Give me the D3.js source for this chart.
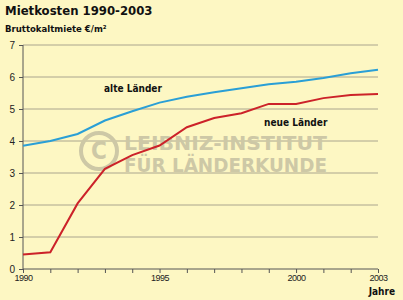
<!doctype html>
<html lang="de">
<head>
  <meta charset="utf-8" />
  <title>Mietkosten 1990-2003</title>
  <script src="https://cdn.jsdelivr.net/npm/d3@7"></script>
  <style>
    body { margin: 0; background: #fdf7c3; }
    svg { display: block; font-family: "DejaVu Sans Condensed", "DejaVu Sans", sans-serif; }
  </style>
</head>
<body>
  <div id="chart"></div>
  <script>
    const years = [1990, 1991, 1992, 1993, 1994, 1995, 1996, 1997, 1998, 1999, 2000, 2001, 2002, 2003];
    const alteLaender = [3.85, 4.0, 4.22, 4.64, 4.93, 5.2, 5.38, 5.52, 5.65, 5.77, 5.85, 5.97, 6.12, 6.23];
    const neueLaender = [0.45, 0.52, 2.05, 3.13, 3.56, 3.86, 4.43, 4.72, 4.87, 5.16, 5.16, 5.34, 5.44, 5.47];
    const yTicks = [0, 1, 2, 3, 4, 5, 6, 7];
    const xLabels = [1990, 1995, 2000, 2003];

    const w = 403, h = 300;
    const svg = d3.select("#chart").append("svg").attr("width", w).attr("height", h);

    const x = d3.scaleLinear().domain([1990, 2003]).range([23, 378]);
    const y = d3.scaleLinear().domain([0, 7]).range([269, 45]);

    svg.append("rect").attr("width", w).attr("height", h).attr("fill", "#fdf7c3");

    // gridlines
    svg.append("g")
      .selectAll("line")
      .data(yTicks.filter(d => d > 0))
      .enter()
      .append("line")
      .attr("x1", x(1990)).attr("x2", x(2003))
      .attr("y1", d => y(d)).attr("y2", d => y(d))
      .attr("stroke", "#aaa58e").attr("stroke-width", 1);

    // watermark
    const wm = svg.append("g").attr("fill", "#cdc8a6");
    wm.append("circle").attr("cx", 99).attr("cy", 151).attr("r", 18)
      .attr("fill", "none").attr("stroke", "#cdc8a6").attr("stroke-width", 4);
    wm.append("text").attr("x", 99).attr("y", 159).attr("text-anchor", "middle")
      .style("font-size", "24px").style("font-weight", "bold").text("C");
    wm.append("text").attr("x", 124).attr("y", 150)
      .attr("textLength", 203).attr("lengthAdjust", "spacingAndGlyphs")
      .style("font-size", "19px").style("font-weight", "bold").text("LEIBNIZ-INSTITUT");
    wm.append("text").attr("x", 124).attr("y", 172)
      .attr("textLength", 203).attr("lengthAdjust", "spacingAndGlyphs")
      .style("font-size", "19px").style("font-weight", "bold").text("FÜR LÄNDERKUNDE");

    // y axis
    const yAxis = svg.append("g")
      .attr("transform", "translate(" + x(1990) + ",0)")
      .call(d3.axisLeft(y).tickValues(yTicks).tickSize(4).tickFormat(d3.format("d")));
    yAxis.select(".domain").attr("stroke", "#555").attr("d", "M0," + y(7) + "V" + y(0));
    yAxis.selectAll(".tick line").attr("stroke", "#555");
    yAxis.selectAll("text").attr("fill", "#222").style("font-size", "10px").attr("x", -8);

    // x axis
    const xAxis = svg.append("g")
      .attr("transform", "translate(0," + y(0) + ")")
      .call(d3.axisBottom(x).tickValues(years).tickSize(4)
        .tickFormat(d => xLabels.includes(d) ? d : ""));
    xAxis.select(".domain").attr("stroke", "#555").attr("d", "M" + x(1990) + ",0H" + x(2003));
    xAxis.selectAll(".tick line").attr("stroke", "#555");
    xAxis.selectAll("text").attr("fill", "#222").style("font-size", "9px").attr("y", 6)
      .style("letter-spacing", "-0.5px");

    const line = d3.line()
      .x((d, i) => x(years[i]))
      .y(d => y(d));

    svg.append("path").datum(alteLaender)
      .attr("d", line).attr("fill", "none")
      .attr("stroke", "#2a9fd6").attr("stroke-width", 2);

    svg.append("path").datum(neueLaender)
      .attr("d", line).attr("fill", "none")
      .attr("stroke", "#cc2229").attr("stroke-width", 2);

    // labels
    svg.append("text").attr("x", 104).attr("y", 92)
      .style("font-size", "10px").style("font-weight", "bold").attr("fill", "#111")
      .text("alte Länder");
    svg.append("text").attr("x", 264).attr("y", 126)
      .style("font-size", "10px").style("font-weight", "bold").attr("fill", "#111")
      .text("neue Länder");
    svg.append("text").attr("x", 395).attr("y", 295).attr("text-anchor", "end")
      .style("font-size", "10px").style("font-weight", "bold").attr("fill", "#111")
      .text("Jahre");

    svg.append("text").attr("x", 5).attr("y", 15)
      .style("font-size", "13px").style("font-weight", "bold").attr("fill", "#111")
      .text("Mietkosten 1990-2003");
    svg.append("text").attr("x", 5).attr("y", 32)
      .style("font-size", "9.5px").style("font-weight", "bold").attr("fill", "#111")
      .text("Bruttokaltmiete €/m²");
  </script>
</body>
</html>
